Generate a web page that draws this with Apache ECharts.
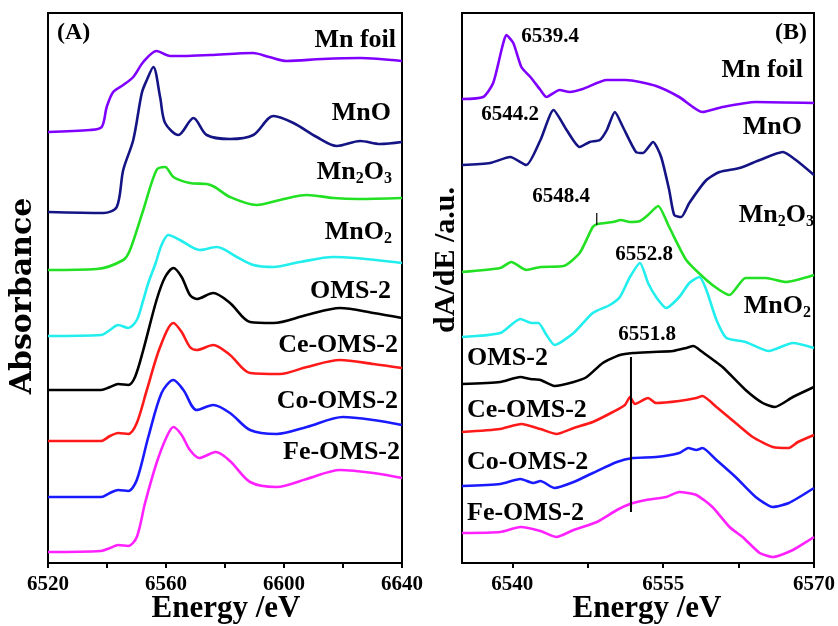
<!DOCTYPE html>
<html><head><meta charset="utf-8">
<script src="https://cdn.jsdelivr.net/npm/echarts@6/dist/echarts.min.js"></script>
<style>html,body{margin:0;padding:0;background:#fff}#c{width:838px;height:626px}</style>
</head><body><div id="c"></div>
<script>
// ---- Panel A: XANES absorbance (offset-stacked), [energy eV, a.u.]
const mnFoilA = [[6520,43.1],[6534.2,43.3],[6538.2,43.6],[6539.9,45.6],[6542.1,47.1],[6545.5,47.8],[6548.9,48.6],[6552.3,50.1],[6556.8,51.2],[6561.4,50.7],[6566,50.7],[6575,50.8],[6589.5,51.0],[6595,50.6],[6600.9,50.2],[6613,50.4],[6625.8,50.5],[6640,50.2]];
const mnoA = [[6520,35.1],[6538.8,35.0],[6543.3,35.6],[6545.5,39.3],[6548.9,42.3],[6551.8,47.0],[6553.5,48.3],[6555.7,49.6],[6558,46.6],[6559.7,44.0],[6564.2,42.8],[6569.3,44.5],[6573.8,42.8],[6581.7,42.4],[6589.6,42.8],[6596.4,44.7],[6603.2,44.0],[6611.1,42.6],[6617.9,41.7],[6625.8,42.2],[6632.6,41.9],[6640,42.1]];
const mn2o3A = [[6520,29.3],[6536.5,29.4],[6545.5,30.3],[6547.8,31.3],[6552.3,35.3],[6556.8,39.3],[6559.7,39.6],[6562.5,38.6],[6568.1,38.0],[6573.8,37.9],[6576.5,37.6],[6581.7,36.6],[6590.7,35.8],[6598.6,36.3],[6607.7,36.8],[6616.8,36.5],[6625,36.4],[6640,36.5]];
const mno2A = [[6520,22.7],[6538,22.8],[6541,23.3],[6543.8,23.8],[6547.2,23.5],[6550.1,24.3],[6552.3,26.3],[6554,28.0],[6556.5,30.0],[6558.5,31.8],[6560.8,32.8],[6564.7,32.3],[6571.5,31.3],[6577.2,31.6],[6584,30.6],[6589.6,29.8],[6596.4,29.6],[6605.4,30.1],[6616.7,30.6],[6624,30.5],[6640,30.0]];
const omsA = [[6520,17.3],[6538,17.3],[6541,17.6],[6543.8,17.9],[6547.2,17.8],[6549.5,18.6],[6552.3,21.3],[6556.8,26.3],[6559.7,28.6],[6562.5,29.5],[6565.3,28.6],[6568.1,26.8],[6570.4,26.4],[6576,27.0],[6581.7,26.0],[6588.5,24.1],[6596.4,24.0],[6607.7,24.8],[6619,25.5],[6630.3,25.0],[6640,24.5]];
const ceA = [[6520,12.2],[6538,12.2],[6541,12.7],[6543.8,13.0],[6547.2,12.9],[6550.1,14.0],[6553.5,17.3],[6558,21.6],[6562.5,24.0],[6565.3,23.1],[6568.1,21.6],[6570.4,21.3],[6576,21.8],[6581.7,20.8],[6588.5,19.0],[6598.6,18.9],[6607.7,19.6],[6619,20.3],[6630.3,19.9],[6640,19.5]];
const coA = [[6520,6.6],[6538,6.6],[6541,7.0],[6543.8,7.3],[6547.2,7.2],[6550.1,8.3],[6554,12.6],[6558.5,17.0],[6562.5,18.3],[6565.9,17.3],[6570.4,15.3],[6576,15.8],[6581.7,15.0],[6588.5,13.3],[6597.5,12.9],[6607.7,13.6],[6620,14.6],[6630.3,14.3],[6640,13.8]];
const feA = [[6520,1.1],[6538,1.2],[6541,1.5],[6543.8,1.8],[6547.2,1.7],[6550.1,2.6],[6552.9,6.0],[6556.8,10.0],[6560.2,12.6],[6562.5,13.6],[6565.3,12.8],[6568.1,11.3],[6571.3,10.5],[6576.9,11.1],[6581.7,10.2],[6588.5,8.1],[6597.5,7.6],[6607.7,8.4],[6619,9.3],[6630.3,9.0],[6640,8.5]];

// ---- Panel B: first derivative dA/dE (offset-stacked)
const mnFoilB = [[6535,46.4],[6537.1,46.6],[6538.1,48.0],[6539.0,51.6],[6539.4,52.8],[6540.1,52.0],[6540.9,49.6],[6541.8,48.6],[6542.8,47.3],[6543.4,46.6],[6544.7,47.3],[6545.7,47.1],[6547.0,47.4],[6549.4,48.3],[6551.3,48.3],[6554.3,47.7],[6556.6,46.6],[6558.9,45.1],[6560.9,45.6],[6564.2,46.1],[6570,46.0]];
const mnoB = [[6535,39.8],[6537.8,40.0],[6539.8,40.6],[6541.4,39.8],[6542.8,42.3],[6544.1,45.3],[6545.4,43.3],[6546.7,41.6],[6547.7,42.1],[6548.7,42.3],[6549.4,43.3],[6550.2,45.1],[6551.0,43.6],[6552.3,41.1],[6553.0,41.0],[6554.0,42.1],[6554.8,40.6],[6555.6,37.3],[6556.1,34.8],[6556.8,34.6],[6557.6,36.0],[6559.3,38.3],[6560.6,39.1],[6562.6,39.5],[6564.6,40.3],[6566.9,41.1],[6568.2,40.3],[6570,38.8]];
const mn2o3B = [[6535,29.1],[6538.8,29.5],[6539.9,30.1],[6541.4,29.3],[6542.8,29.6],[6545.1,29.7],[6546.7,31.0],[6548.0,33.6],[6548.5,33.9],[6550.0,34.1],[6550.8,34.3],[6551.7,34.1],[6552.7,34.2],[6553.5,34.8],[6554.5,35.7],[6555.6,33.6],[6557.3,30.3],[6559.3,28.3],[6560.6,27.3],[6561.6,26.8],[6563.2,28.5],[6565.2,28.5],[6567.2,28.1],[6570,28.8]];
const mno2B = [[6535,22.6],[6538.8,23.0],[6540.8,24.4],[6541.9,24.0],[6542.6,24.0],[6543.4,22.8],[6544.2,21.8],[6546.1,23.0],[6548.0,25.0],[6549.7,25.8],[6550.7,26.6],[6551.7,28.6],[6552.7,30.0],[6553.5,28.0],[6554.3,26.6],[6555.3,25.5],[6556.6,26.6],[6557.6,28.0],[6558.6,28.6],[6559.3,27.3],[6560.3,24.3],[6561.3,22.5],[6563.2,22.1],[6565.5,21.2],[6567.9,22.0],[6570,21.5]];
const omsB = [[6535,17.9],[6538.8,18.1],[6540.8,18.6],[6541.8,18.4],[6542.8,18.3],[6544.2,17.7],[6546.1,18.1],[6547.4,18.6],[6549.0,20.0],[6550.7,20.8],[6552.0,21.0],[6554.0,21.1],[6556.0,21.2],[6557.3,21.5],[6558.0,21.7],[6558.9,21.1],[6560.9,19.6],[6563.2,17.3],[6564.9,16.0],[6566.1,15.6],[6567.9,16.6],[6570,17.6]];
const ceB = [[6535,13.1],[6538.8,13.4],[6540.9,13.9],[6542.8,13.4],[6544.4,12.9],[6546.1,13.5],[6548.0,14.1],[6550.0,15.1],[6551.2,15.8],[6551.7,16.6],[6552.2,15.9],[6553.5,16.5],[6554.3,16.0],[6556.6,16.2],[6558.3,16.5],[6558.9,16.7],[6560.3,15.6],[6562.2,14.0],[6563.9,12.6],[6565.9,11.6],[6567.5,11.5],[6568.4,12.1],[6570,12.8]];
const coB = [[6535,7.7],[6538.8,7.9],[6540.8,8.4],[6542.1,8.0],[6542.8,8.2],[6544.2,7.5],[6546.1,8.1],[6548.0,9.0],[6550.4,10.1],[6552.0,10.5],[6554.3,10.6],[6556.6,11.0],[6557.5,11.5],[6558.3,11.3],[6558.9,11.5],[6560.3,10.3],[6562.2,8.6],[6564.2,6.6],[6565.9,5.6],[6567.5,6.0],[6570,7.5]];
const feB = [[6535,3.0],[6538.8,3.1],[6540.8,3.6],[6542.8,3.2],[6544.4,2.6],[6546.1,3.3],[6548.4,4.1],[6550.4,5.3],[6551.7,5.9],[6553.3,6.3],[6555.3,6.6],[6556.6,7.1],[6558.3,6.8],[6559.9,5.6],[6561.6,3.6],[6562.9,2.6],[6564.6,1.0],[6565.9,0.6],[6567.9,1.3],[6570,2.6]];

// guide marks in panel B
const guide6551 = [[6551.8,20.6],[6551.8,5.1]];
const guide6548 = [[6548.4,35.0],[6548.4,33.8]];

// ticks
const ticksA = [6520,6540,6560,6580,6600,6620,6640];
const labelsA = [6520,6560,6600,6640];
const ticksB = [6540,6547.5,6555,6562.5,6570];
const labelsB = [6540,6555,6570];

const names = ['Mn foil','MnO','Mn2O3','MnO2','OMS-2','Ce-OMS-2','Co-OMS-2','Fe-OMS-2'];
const colors = ['#8000ff','#141485','#22e022','#22eeee','#000000','#ff1a1a','#1a1aff','#ff22ff'];
const seriesA = [mnFoilA,mnoA,mn2o3A,mno2A,omsA,ceA,coA,feA];
const seriesB = [mnFoilB,mnoB,mn2o3B,mno2B,omsB,ceB,coB,feB];

const FONT = '"Liberation Serif","Times New Roman",serif';
const chart = echarts.init(document.getElementById('c'), null, {renderer:'canvas'});

function xAxisCfg(gi, min, max, ticks, labels){
  return {
    type:'value', gridIndex:gi, min:min, max:max,
    axisLine:{show:true, onZero:false, lineStyle:{color:'#000', width:2}},
    axisTick:{show:true, length:5, lineStyle:{color:'#000', width:2}, customValues:ticks},
    axisLabel:{show:true, customValues:labels, formatter:function(v){return String(v);}, margin:11, color:'#000', fontFamily:FONT, fontWeight:'bold', fontSize:21},
    splitLine:{show:false}
  };
}
function yAxisCfg(gi){
  return {type:'value', gridIndex:gi, min:0, max:55, axisLine:{show:false}, axisTick:{show:false}, axisLabel:{show:false}, splitLine:{show:false}};
}

const series = [];
seriesA.forEach((d,i)=>series.push({type:'line', name:names[i]+' A', xAxisIndex:0, yAxisIndex:0, data:d, showSymbol:false, smooth:0.3, lineStyle:{color:colors[i], width:2.6}, z:10-i}));
seriesB.forEach((d,i)=>series.push({type:'line', name:names[i]+' B', xAxisIndex:1, yAxisIndex:1, data:d, showSymbol:false, smooth:0.2, lineStyle:{color:colors[i], width:2.6}, z:10-i}));
series.push({type:'line', xAxisIndex:1, yAxisIndex:1, data:guide6551, showSymbol:false, lineStyle:{color:'#000', width:2}, z:20});
series.push({type:'line', xAxisIndex:1, yAxisIndex:1, data:guide6548, showSymbol:false, lineStyle:{color:'#000', width:1.2}, z:20});

function txt(x,y,text,opts){
  return Object.assign({type:'text', x:x, y:y, z:100, style:Object.assign({text:text, fill:'#000', font:'bold 26px '+FONT, align:'right', verticalAlign:'middle'}, opts||{})});
}
const rich = {a:{fontFamily:FONT, fontWeight:'bold', fontSize:26, fill:'#000'}, s:{fontFamily:FONT, fontWeight:'bold', fontSize:16, fill:'#000', padding:[14,0,0,0]}};
function richTxt(x,y,text,align){
  return {type:'text', x:x, y:y, z:100, style:{text:text, rich:rich, align:align||'right', verticalAlign:'middle', fill:'#000', font:'bold 26px '+FONT}};
}

const graphics = [
  txt(57,33,'(A)',{align:'left', font:'bold 24px '+FONT}),
  txt(807,33,'(B)',{align:'right', font:'bold 24px '+FONT}),
  // panel A labels
  txt(396,40,'Mn foil'),
  txt(391,113,'MnO'),
  richTxt(392,172,'{a|Mn}{s|2}{a|O}{s|3}'),
  richTxt(392,232,'{a|MnO}{s|2}'),
  txt(391,291,'OMS-2'),
  txt(398,345,'Ce-OMS-2'),
  txt(398,401,'Co-OMS-2'),
  txt(400,452,'Fe-OMS-2'),
  // panel B labels
  txt(803,70,'Mn foil'),
  txt(802,127,'MnO'),
  richTxt(814,215,'{a|Mn}{s|2}{a|O}{s|3}'),
  richTxt(811,306,'{a|MnO}{s|2}'),
  txt(467,358,'OMS-2',{align:'left'}),
  txt(467,410,'Ce-OMS-2',{align:'left'}),
  txt(467,462,'Co-OMS-2',{align:'left'}),
  txt(467,513,'Fe-OMS-2',{align:'left'}),
  // peak annotations
  txt(550,37,'6539.4',{align:'center', font:'bold 21px '+FONT}),
  txt(510,115,'6544.2',{align:'center', font:'bold 21px '+FONT}),
  txt(561,197,'6548.4',{align:'center', font:'bold 21px '+FONT}),
  txt(644,255,'6552.8',{align:'center', font:'bold 21px '+FONT}),
  txt(647,335,'6551.8',{align:'center', font:'bold 21px '+FONT}),
  // axis titles
  txt(226,609,'Energy /eV',{align:'center', font:'bold 31px '+FONT}),
  txt(647,609,'Energy /eV',{align:'center', font:'bold 31px '+FONT}),
  {type:'text', x:23, y:296, rotation:Math.PI/2, z:100, style:{text:'Absorbance', fill:'#000', font:'bold 30px "DejaVu Serif",serif', align:'center', verticalAlign:'middle'}},
  {type:'text', x:446, y:260, rotation:Math.PI/2, z:100, style:{text:'dA/dE /a.u.', fill:'#000', font:'bold 30px '+FONT, align:'center', verticalAlign:'middle'}}
];

chart.setOption({
  animation:false,
  backgroundColor:'#fff',
  grid:[
    {left:48, top:13, width:354, height:550, show:true, borderColor:'#000', borderWidth:2, backgroundColor:'transparent'},
    {left:462, top:13, width:353, height:550, show:true, borderColor:'#000', borderWidth:2, backgroundColor:'transparent'}
  ],
  xAxis:[xAxisCfg(0,6520,6640,ticksA,labelsA), xAxisCfg(1,6535,6570,ticksB,labelsB)],
  yAxis:[yAxisCfg(0), yAxisCfg(1)],
  series:series,
  graphic:graphics
});
</script></body></html>
